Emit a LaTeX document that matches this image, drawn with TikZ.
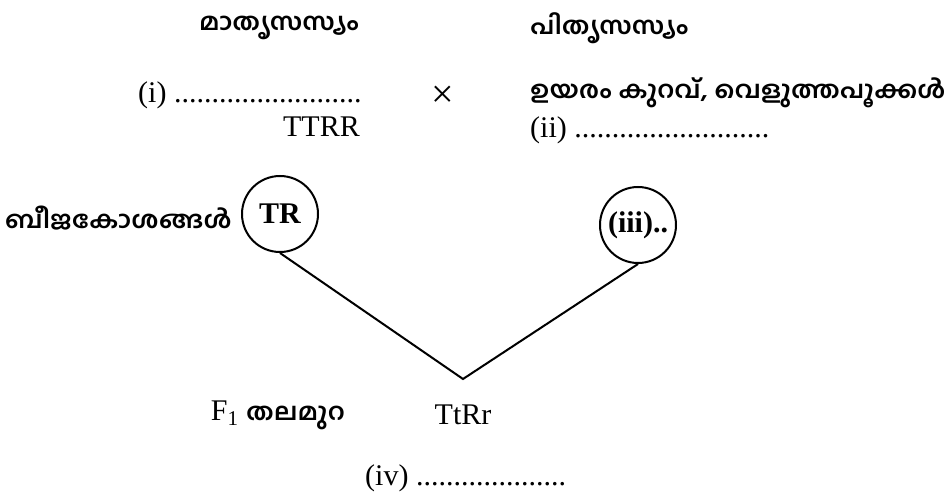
\documentclass[tikz,border=0pt]{standalone}
\usepackage{fontspec}
\setmainfont{Liberation Serif}
\newfontfamily\mlfont[Script=Malayalam,FakeStretch=1.1]{Hind Kochi}
\usetikzlibrary{positioning}

\begin{document}
\begin{tikzpicture}[
  x=1pt,y=-1pt,
  txt/.style={inner sep=0pt,font=\fontsize{30}{32}\selectfont},
  ml/.style={inner sep=0pt,font=\mlfont\bfseries\fontsize{24}{26}\selectfont},
  gam/.style={draw,circle,line width=2pt,minimum size=76pt,inner sep=0pt,font=\bfseries\fontsize{30}{32}\selectfont},
  ln/.style={line width=2pt}
]
\useasboundingbox (0,0) rectangle (948,494);
% parents
\node[ml]  (mother) at (279,28)           {മാതൃസസ്യം};
\node[ml,anchor=west] (father) at (530,28) {പിതൃസസ്യം};
\node[txt,anchor=west] (pi)  at (138,95)  {(i) .........................};
\node[inner sep=0pt,font=\fontsize{40}{40}\selectfont] (cross) at (443,97) {×};
\node[txt,anchor=east] (ttrr) at (360,127) {TTRR};
\node[ml,anchor=west] (pheno) at (530,93)  {ഉയരം കുറവ്, വെളുത്തപൂക്കൾ};
\node[txt,anchor=west] (pii) at (530,130) {(ii) ..........................};
% gametes
\node[gam] (tr)  at (280,214) {TR};
\node[gam] (iii) at (638,225) {(iii)..};
\node[ml,anchor=east] (gamlbl) at (232,218) {ബീജകോശങ്ങൾ};
\coordinate (v) at (463,379);
\draw[ln] (tr.south) -- (v) -- (iii.south);
% F1
\node[txt] (ttrr1) at (463,415) {TtRr};
\node[txt,anchor=east] (f1) at (345,415) {F\textsubscript{1} {\mlfont\bfseries\fontsize{24}{26}\selectfont തലമുറ}};
\node[txt,anchor=west] (piv) at (365,478) {(iv) ....................};
\end{tikzpicture}
\end{document}
